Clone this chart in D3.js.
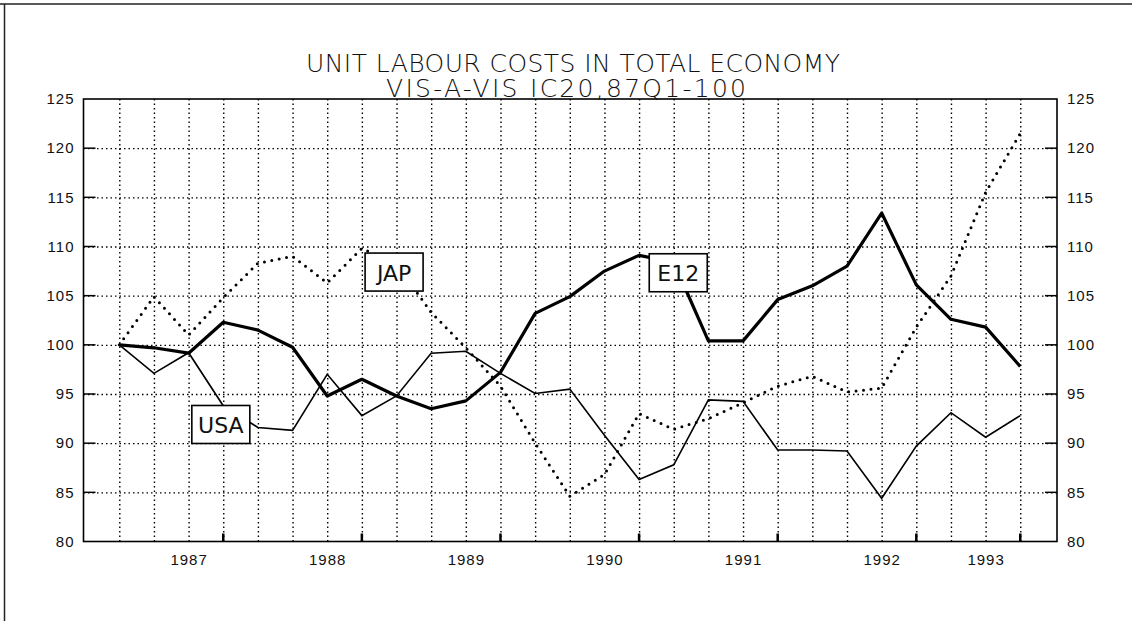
<!DOCTYPE html>
<html>
<head>
<meta charset="utf-8">
<script src="https://cdn.jsdelivr.net/npm/d3@7"></script>
<style>
  body { margin: 0; background: #fff; }
  svg { display: block; font-family: "DejaVu Sans", sans-serif; }
  .grid line { stroke: #000; stroke-width: 1.4; stroke-dasharray: 1.5, 3; }
  .grid path { display: none; }
  .lab text { font-size: 15px; letter-spacing: 1px; fill: #111; }
</style>
</head>
<body>
<div id="chart"></div>
<script>
// quarters, index 0 = 87Q1
var quarters = d3.range(0, 27);

var e12 = [100, 99.7, 99.15, 102.3, 101.5, 99.75, 94.8, 96.5, 94.8, 93.5, 94.3, 97.2, 103.2, 104.9,
    107.5, 109.1, 108.4, 100.4, 100.4, 104.6, 106.0, 108.0, 113.4, 106.1, 102.6, 101.8, 97.8];
var usa = [100, 97.1, 99.2, 93.8, 91.6, 91.3, 97.0, 92.8, 94.8, 99.15, 99.35, 97.1, 95.05, 95.5,
    90.8, 86.3, 87.8, 94.4, 94.25, 89.3, 89.3, 89.2, 84.4, 89.7, 93.1, 90.6, 92.8];
var jap = [100, 104.9, 101.0, 104.8, 108.3, 109.0, 106.3, 109.8, 108.2, 103.3, 99.7, 95.8, 90.0, 84.6,
    86.8, 93.0, 91.4, 92.5, 94.1, 95.8, 96.8, 95.2, 95.6, 101.8, 107.0, 115.5, 121.5];

var yearLabels = ["1987", "1988", "1989", "1990", "1991", "1992", "1993"];
var yearPos = [2, 6, 10, 14, 18, 22, 25];
var majorTicks = [3, 7, 11, 15, 19, 23, 26];
var yTicks = [80, 85, 90, 95, 100, 105, 110, 115, 120, 125];

var seriesNames = ["JAP", "E12", "USA"];
var nameAt = [7.93, 16.13, 2.93];
var nameVal = [107.4, 107.33, 91.9];

var titleLines = ["UNIT LABOUR COSTS IN TOTAL ECONOMY", "VIS-A-VIS IC20,87Q1-100"];

var svgWidth = 1132;
var svgHeight = 621;
var plot = { left: 83.5, right: 1057, top: 99, bottom: 541.5 };

var svg = d3.select("#chart").append("svg")
    .attr("width", svgWidth)
    .attr("height", svgHeight);

svg.append("rect").attr("width", svgWidth).attr("height", svgHeight).attr("fill", "#fff");

// page frame from the scan
svg.append("line").attr("x1", 0).attr("x2", svgWidth).attr("y1", 4).attr("y2", 4)
    .attr("stroke", "#222").attr("stroke-width", 1.5);
svg.append("line").attr("x1", 4.5).attr("x2", 4.5).attr("y1", 4).attr("y2", svgHeight)
    .attr("stroke", "#222").attr("stroke-width", 1.5);

var x = d3.scaleLinear().domain([-1.033, 27.06]).range([plot.left, plot.right]);
var y = d3.scaleLinear().domain([80, 125]).range([plot.bottom, plot.top]);

// grid
svg.append("g").attr("class", "grid")
    .attr("transform", `translate(0, ${plot.bottom})`)
    .call(d3.axisBottom(x).tickValues(quarters).tickSize(-(plot.bottom - plot.top)).tickFormat(""));

svg.append("g").attr("class", "grid")
    .attr("transform", `translate(${plot.left}, 0)`)
    .call(d3.axisLeft(y).tickValues(yTicks.slice(1, -1)).tickSize(-(plot.right - plot.left)).tickFormat(""));

// short solid ticks on the frame
var tickG = svg.append("g").attr("stroke", "#000").attr("stroke-width", 1.5);
tickG.selectAll(".tl").data(yTicks.slice(1, -1)).enter().append("line")
    .attr("x1", plot.left).attr("x2", plot.left + 12)
    .attr("y1", d => y(d)).attr("y2", d => y(d));
tickG.selectAll(".tr").data(yTicks.slice(1, -1)).enter().append("line")
    .attr("x1", plot.right - 12).attr("x2", plot.right)
    .attr("y1", d => y(d)).attr("y2", d => y(d));
tickG.selectAll(".tb").data(majorTicks).enter().append("line")
    .attr("stroke-width", 2.5)
    .attr("x1", d => x(d)).attr("x2", d => x(d))
    .attr("y1", plot.bottom).attr("y2", plot.bottom - 8);

// frame
svg.append("rect")
    .attr("x", plot.left).attr("y", plot.top)
    .attr("width", plot.right - plot.left).attr("height", plot.bottom - plot.top)
    .attr("fill", "none").attr("stroke", "#000").attr("stroke-width", 1.6);

// axis labels
var leftAxis = svg.append("g").attr("class", "lab")
    .attr("transform", `translate(${plot.left}, 0)`)
    .call(d3.axisLeft(y).tickValues(yTicks).tickSize(0).tickPadding(9));
leftAxis.select(".domain").remove();

var rightAxis = svg.append("g").attr("class", "lab")
    .attr("transform", `translate(${plot.right}, 0)`)
    .call(d3.axisRight(y).tickValues(yTicks).tickSize(0).tickPadding(10));
rightAxis.select(".domain").remove();

var xLab = svg.append("g").attr("class", "lab")
    .attr("transform", `translate(0, ${plot.bottom})`)
    .call(d3.axisBottom(x).tickValues(yearPos).tickSize(0).tickPadding(13)
        .tickFormat((d, i) => yearLabels[i]));
xLab.select(".domain").remove();
xLab.selectAll("text").style("font-size", "15px");

// lines
var line = d3.line()
    .x((d, i) => x(quarters[i]))
    .y(d => y(d));

svg.append("path").datum(jap)
    .attr("d", line)
    .attr("fill", "none")
    .attr("stroke", "#000")
    .attr("stroke-width", 3)
    .attr("stroke-linecap", "round")
    .attr("stroke-dasharray", "0,7.5");

svg.append("path").datum(usa)
    .attr("d", line)
    .attr("fill", "none")
    .attr("stroke", "#000")
    .attr("stroke-width", 1.6);

svg.append("path").datum(e12)
    .attr("d", line)
    .attr("fill", "none")
    .attr("stroke", "#000")
    .attr("stroke-width", 3.2)
    .attr("stroke-linejoin", "round");

// series name boxes
var boxes = svg.selectAll(".nameBox").data(seriesNames).enter().append("g")
    .attr("transform", (d, i) => `translate(${x(nameAt[i])}, ${y(nameVal[i])})`);
boxes.append("rect")
    .attr("x", -29).attr("y", -19)
    .attr("width", 58).attr("height", 38)
    .attr("fill", "#fff").attr("stroke", "#000").attr("stroke-width", 1.6);
boxes.append("text")
    .attr("text-anchor", "middle")
    .attr("y", 8.5)
    .style("font-size", "22px")
    .attr("fill", "#111")
    .text(d => d);

// title
var titleX = [306, 386];
var titleLen = [534, 360];
svg.selectAll(".title").data(titleLines).enter().append("text")
    .attr("x", (d, i) => titleX[i])
    .attr("y", (d, i) => 72 + i * 25)
    .attr("textLength", (d, i) => titleLen[i])
    .style("font-size", "25px")
    .style("font-weight", 200)
    .attr("fill", "#111")
    .text(d => d);
</script>
</body>
</html>
